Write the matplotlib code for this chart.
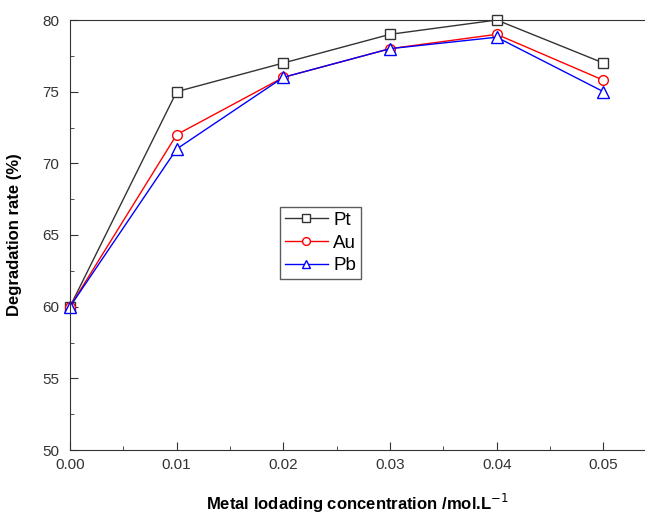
import matplotlib.pyplot as plt
from matplotlib.ticker import MultipleLocator

plt.rcParams['font.family'] = ['Liberation Sans', 'DejaVu Sans']

conc = [0.00, 0.01, 0.02, 0.03, 0.04, 0.05]
pt = [60, 75, 77, 79, 80, 77]
au = [60, 72, 76, 78, 79, 75.8]
pb = [60, 71, 76, 78, 78.8, 75]

fig = plt.figure(figsize=(6.45, 5.14), dpi=100)
ax = fig.add_axes([70/645, 64/514, 1 - 70/645, 430/514])

ax.plot(conc, pt, color="#333333", marker="s", ms=7, mfc="white", lw=1, label="Pt", clip_on=False)
ax.plot(conc, au, color="red", marker="o", ms=7, mfc="white", lw=1, label="Au", clip_on=False)
ax.plot(conc, pb, color="blue", marker="^", ms=8, mfc="white", lw=1, label="Pb", clip_on=False)

ax.set_xlim(0, 0.0539)
ax.set_ylim(50, 80)
ax.xaxis.set_major_locator(MultipleLocator(0.01))
ax.xaxis.set_minor_locator(MultipleLocator(0.005))
ax.yaxis.set_major_locator(MultipleLocator(5))
ax.yaxis.set_minor_locator(MultipleLocator(2.5))
ax.xaxis.set_major_formatter(plt.FormatStrFormatter("%.2f"))
ax.tick_params(which="both", direction="in", top=False, right=False, colors="#333333", labelsize=11)
ax.tick_params(which="major", length=6)
ax.tick_params(which="minor", length=3)
ax.tick_params(axis="x", pad=6)
ax.tick_params(axis="y", pad=8)
ax.spines["right"].set_visible(False)
for s in ["left", "bottom", "top"]:
    ax.spines[s].set_color("#333333")

ax.set_xlabel("Metal lodading concentration /mol.L$^{-1}$", fontsize=12, fontweight="bold", labelpad=14)
ax.set_ylabel("Degradation rate (%)", fontsize=12, fontweight="bold", labelpad=14)

leg = ax.legend(loc="upper left", bbox_to_anchor=(0.365, 0.565), fontsize=13.5, frameon=True,
                fancybox=False, edgecolor="#333333", handlelength=2.3, borderpad=0.25,
                labelspacing=0.3, handletextpad=0.3, borderaxespad=0, markerscale=0.8)

fig.savefig("out.png", dpi=100)
